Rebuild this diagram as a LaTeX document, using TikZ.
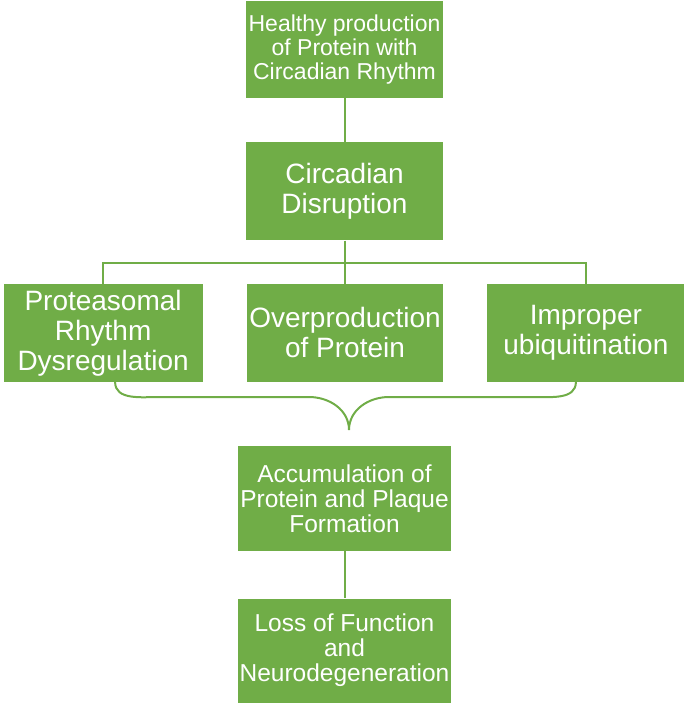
\documentclass[tikz,border=0pt]{standalone}
\usepackage{fontspec}
\setmainfont{Liberation Sans}
\usetikzlibrary{positioning}
\definecolor{boxgreen}{RGB}{112,173,71}

\begin{document}
\begin{tikzpicture}[x=1pt, y=1pt,
		box/.style={fill=boxgreen, text=white, align=center, inner sep=0pt, minimum width=197pt, minimum height=98pt},
		bigtext/.style={font=\fontsize{28}{30}\selectfont},
		smalltext/.style={font=\fontsize{23}{24}\selectfont},
		midtext/.style={font=\fontsize{24.5}{25}\selectfont},
		link/.style={draw=boxgreen, line width=2pt},
		]
	\useasboundingbox (0,0) rectangle (685,-704);

	%Nodes
	\node[box, smalltext, minimum height=97pt]	(healthy) at (344.5,-49.5)	{Healthy production\\of Protein with\\Circadian Rhythm};
	\node[box, bigtext]		(disrupt)[below=44pt of healthy]	{Circadian\\Disruption};
	\node[box, bigtext, minimum width=196pt]	(over)[below=43pt of disrupt, xshift=0.5pt]	{Overproduction\\of Protein};
	\node[box, bigtext, minimum width=199pt]	(prot)[left=44pt of over]	{Proteasomal\\Rhythm\\Dysregulation};
	\node[box, bigtext]		(improper)[right=44pt of over]	{Improper\\ubiquitination};
	\node[box, midtext, minimum width=213pt, minimum height=105pt]	(accum)[below=64pt of over, xshift=-0.5pt]	{Accumulation of\\Protein and Plaque\\Formation};
	\node[box, midtext, minimum width=213pt, minimum height=104pt]	(loss)[below=47pt of accum]	{Loss of Function\\and\\Neurodegeneration};
	\coordinate (tip) at (349,-430);

	%Lines
	\draw[link]	(healthy) -- (disrupt);
	\draw[link]	(disrupt.south) -- (disrupt.south |- over.north);
	\draw[link]	(prot.north) -- ++(0,21) -| (improper.north);
	\draw[link]	([xshift=12pt]prot.south) to[out=-90, in=180] (160,-397) -- (309,-397)
		to[out=0, in=90] (tip) to[out=90, in=180] (389,-397) -- (533,-397)
		to[out=0, in=-90] ([xshift=-10pt]improper.south);
	\draw[link]	(accum) -- (loss);
\end{tikzpicture}
\end{document}
